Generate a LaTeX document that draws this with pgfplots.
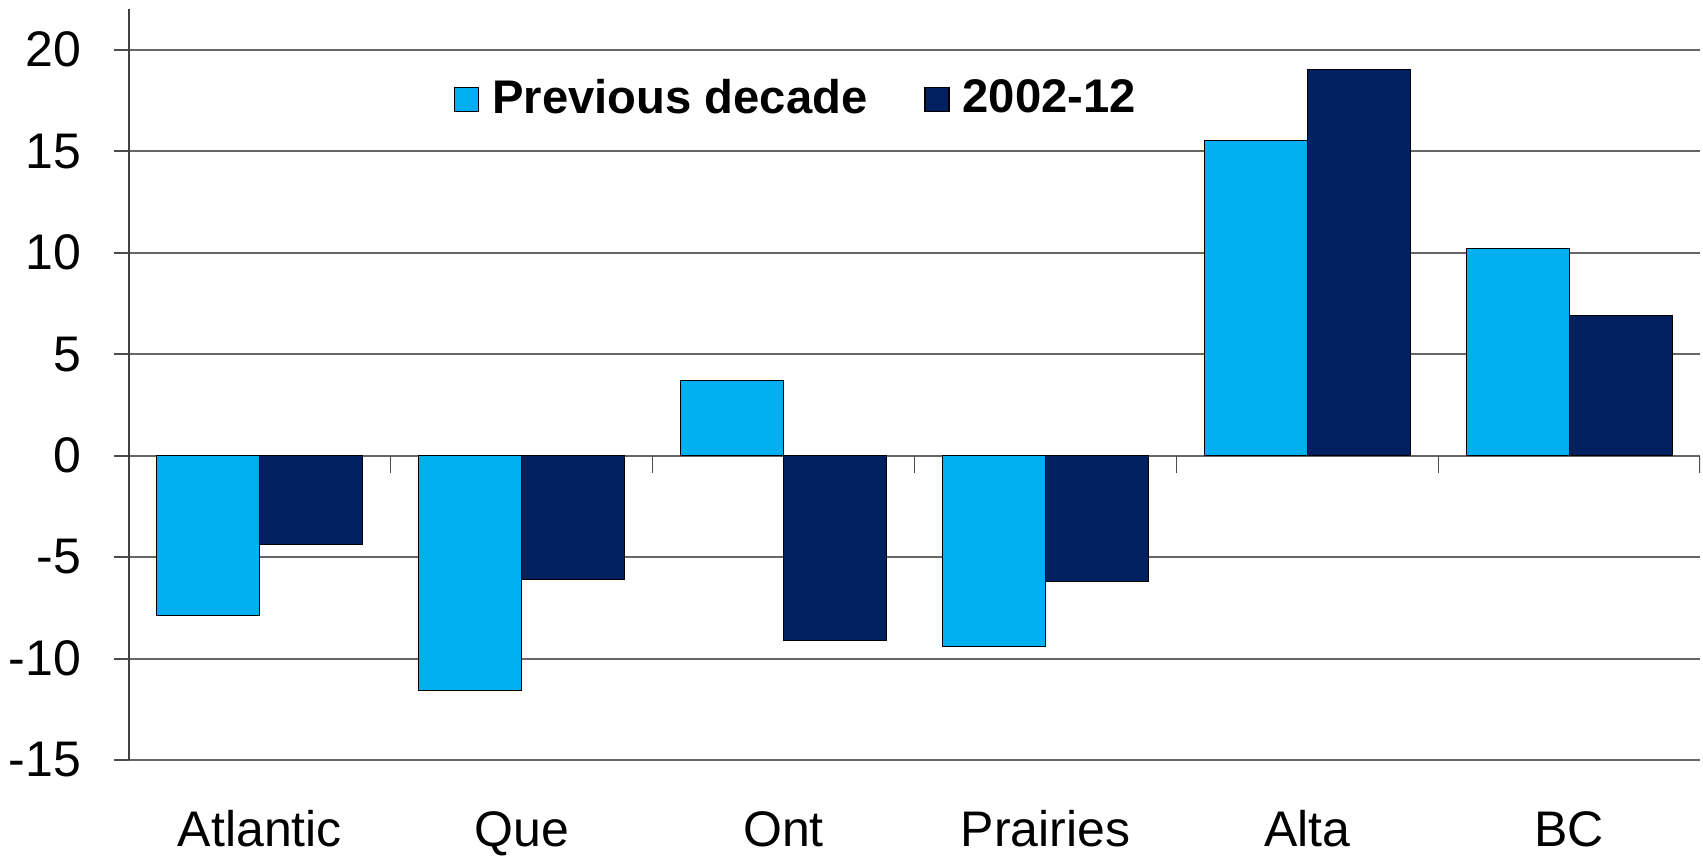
\documentclass[border=0pt]{standalone}
\usepackage{fontspec}
\setmainfont{Liberation Sans}
\usepackage{pgfplots}
\pgfplotsset{compat=1.18}
\definecolor{prevblue}{HTML}{00B0F0}
\definecolor{navy}{HTML}{002060}

\begin{document}
\begin{tikzpicture}
\begin{axis}[
    name=ax,
    scale only axis,
    width=392.75pt,
    height=187.75pt,
    ybar=0pt,
    bar width=25.75pt,
    xmin=-0.5, xmax=5.5,
    ymin=-15, ymax=22,
    ytick={-15,-10,-5,0,5,10,15,20},
    xtick={0,1,2,3,4,5},
    xticklabels={Atlantic,Que,Ont,Prairies,Alta,BC},
    axis x line*=bottom,
    axis y line*=left,
    axis line style={-},
    x axis line style={draw=none},
    y axis line style={black!75,line width=0.3pt},
    major x tick style={draw=none},
    major y tick style={black!70,line width=0.5pt},
    tick align=outside,
    major tick length=3.75pt,
    ymajorgrids,
    grid style={black!60,line width=0.5pt},
    /pgf/number format/assume math mode=true,
    tick label style={font=\fontsize{12.5}{15}\selectfont},
    yticklabel style={inner sep=0pt,xshift=-8pt},
    xticklabel style={inner sep=0pt,anchor=base,yshift=-17.75pt},
    legend style={draw=none,fill=none,at={(0.2065,0.88)},anchor=west,
        font=\bfseries\fontsize{11.8}{14}\selectfont,inner sep=0pt,
        nodes={inner sep=1.5pt},
        /tikz/every even column/.append style={column sep=12.75pt}},
    legend columns=2,
    legend image code/.code={\draw[#1,line width=0.3pt] (0pt,-3pt) rectangle (6pt,3pt); \path (7.75pt,0pt);},
]
\addplot[fill=prevblue,draw=black,line width=0.25pt] coordinates {
    (0,-7.9) (1,-11.6) (2,3.7) (3,-9.4) (4,15.5) (5,10.2)
};
\addlegendentry{Previous decade}
\addplot[fill=navy,draw=black,line width=0.25pt] coordinates {
    (0,-4.4) (1,-6.1) (2,-9.1) (3,-6.2) (4,19.0) (5,6.9)
};
\addlegendentry{2002-12}
\pgfplotsinvokeforeach{0.5,1.5,2.5,3.5,4.5,5.5}{
    \draw[black!70,line width=0.3pt] (axis cs:#1,0) -- ++(0pt,-4.25pt);
}
\end{axis}
\pgfresetboundingbox
\path (ax.south west) ++(-32.25pt,-23.75pt);
\path (ax.north east) ++(0.75pt,2.25pt);
\end{tikzpicture}
\end{document}
